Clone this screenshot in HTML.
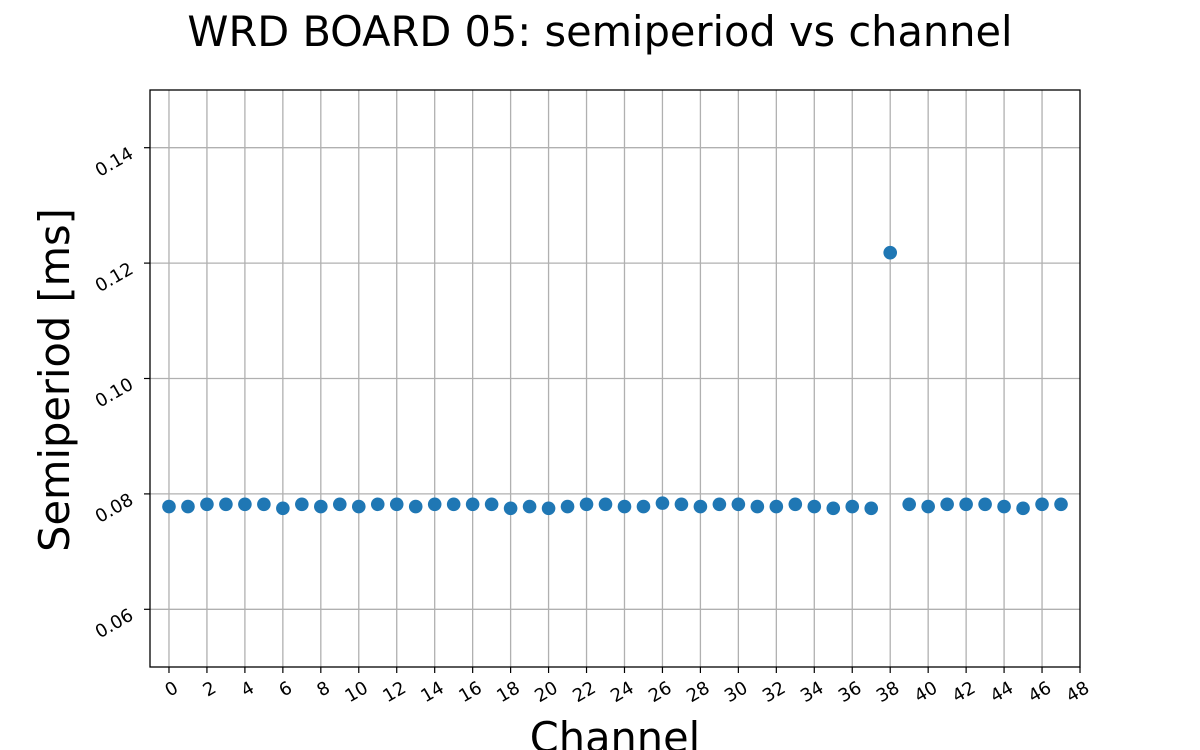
<!DOCTYPE html>
<html><head><meta charset="utf-8"><style>
body{margin:0;background:#fff;}
svg{display:block;font-family:"DejaVu Sans","Liberation Sans",sans-serif;}
</style></head><body>
<svg id="chart" width="1200" height="750">
<text x="600" y="46" font-size="41.5" text-anchor="middle">WRD BOARD 05: semiperiod vs channel</text>
<g id="grid"></g>
<g id="pts"></g>
<rect x="150" y="90" width="930" height="577" fill="none" stroke="#000" stroke-width="1.3"/>
<g id="ticks"></g>
<text x="615" y="752" font-size="41.5" text-anchor="middle">Channel</text>
<text transform="translate(69,380) rotate(-90)" font-size="41.5" text-anchor="middle">Semiperiod [ms]</text>
</svg>
<script>
const channels=[...Array(48).keys()];
const semiperiod=[0.0778,0.0778,0.0782,0.0782,0.0782,0.0782,0.0775,0.0782,0.0778,0.0782,0.0778,0.0782,0.0782,0.0778,0.0782,0.0782,0.0782,0.0782,0.0775,0.0778,0.0775,0.0778,0.0782,0.0782,0.0778,0.0778,0.0784,0.0782,0.0778,0.0782,0.0782,0.0778,0.0778,0.0782,0.0778,0.0775,0.0778,0.0775,0.1218,0.0782,0.0778,0.0782,0.0782,0.0782,0.0778,0.0775,0.0782,0.0782];
const xTicks=[0,2,4,6,8,10,12,14,16,18,20,22,24,26,28,30,32,34,36,38,40,42,44,46,48];
const yTicks=[0.06,0.08,0.10,0.12,0.14];
const yTickLabels=["0.06","0.08","0.10","0.12","0.14"];
const X=v=>150+(v+1)*(930/49);
const Y=v=>90+(0.15-v)*(577/0.1);
const NS="http://www.w3.org/2000/svg";
function mk(t,a,p){const e=document.createElementNS(NS,t);for(const k in a)e.setAttribute(k,a[k]);p.appendChild(e);return e;}
const grid=document.getElementById('grid'),ticks=document.getElementById('ticks'),pts=document.getElementById('pts');
xTicks.forEach(t=>{const x=X(t);
 if(t<48){const g=mk('line',{x1:x,x2:x,y1:90,y2:667,stroke:'#b0b0b0','stroke-width':1.3},grid);
 
 }
 const l=mk('line',{x1:x,x2:x,y1:667,y2:673,stroke:'#000','stroke-width':1.2},ticks);
 
 
 const tx=mk('text',{transform:`translate(${x+8},${687}) rotate(-30)`,'font-size':18,'text-anchor':'end','dominant-baseline':'middle'},ticks);
 tx.textContent=t;
 
 
});
yTicks.forEach((t,i)=>{const y=Y(t);
 const g=mk('line',{x1:150,x2:1080,y1:y,y2:y,stroke:'#b0b0b0','stroke-width':1.3},grid);
 
 
 const l=mk('line',{x1:144,x2:150,y1:y,y2:y,stroke:'#000','stroke-width':1.2},ticks);
 
 
 const tx=mk('text',{transform:`translate(${132},${y+5}) rotate(-30)`,'font-size':18,'text-anchor':'end','dominant-baseline':'middle'},ticks);
 tx.textContent=yTickLabels[i];
 
 
});
channels.forEach((c,i)=>{
 const p=mk('circle',{cx:X(c),cy:Y(semiperiod[i]),r:6.8,fill:'#1f77b4'},pts);
 
 
});
</script>
</body></html>
